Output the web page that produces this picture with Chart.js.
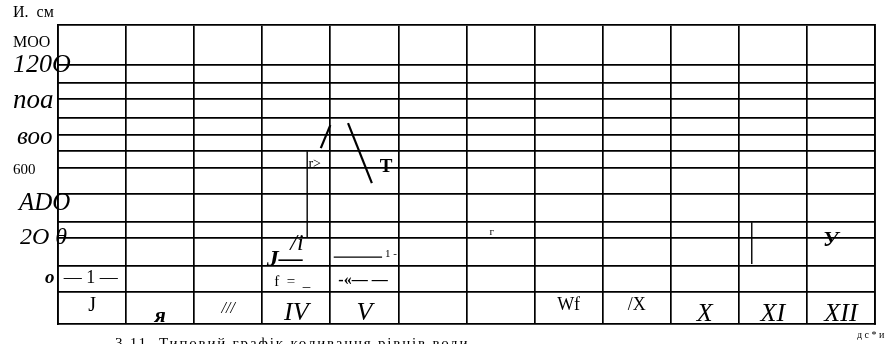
<!DOCTYPE html>
<html>
<head>
<meta charset="utf-8">
<script src="https://cdn.jsdelivr.net/npm/chart.js@4.4.1/dist/chart.umd.min.js"></script>
<style>
  html, body { margin: 0; padding: 0; background: #fff; }
  #wrap { width: 887px; height: 344px; }
</style>
</head>
<body>
<div id="wrap"><canvas id="levels"></canvas></div>
<script>
// months, as they came out of the scan
const months = ['J', 'я', '///', 'IV', 'V', '', '', 'Wf', '/X', 'X', 'XI', 'XII'];

// H, cm - left axis labels and the level each one sits at
const levelLabels = ['МОО', '120O', 'noa', 'воо', '600', 'ADO', '2O θ', 'o'];
const levelValues = [1325, 1200, 997, 794, 608, 423, 225, 0];

// horizontal grid lines (cm)
const gridLevels = [1200, 1099, 1008, 901, 806, 715, 620, 473, 315, 225, 68, -79];

// hydrograph pieces left in the scan (x = months from 1 Jan, y = cm)
const springRise = [{x: 3.86, y: 732}, {x: 4.0, y: 862}];
const springFall = [{x: 4.26, y: 873}, {x: 4.61, y: 535}];
const riseStem = [{x: 3.66, y: 715}, {x: 3.66, y: 231}];
const summerLow = [{x: 4.05, y: 118}, {x: 4.76, y: 118}];
const autumnStem = [{x: 10.19, y: 315}, {x: 10.19, y: 79}];

// stray marks / text inside the plot
const notes = [
    {text: '— 1 —', x: 0.48, y: 0, font: '18px "Liberation Serif"'},
    {text: 'r>', x: 3.77, y: 642, font: '14px "Liberation Serif"'},
    {text: 'T', x: 4.82, y: 625, font: 'bold 19px "Liberation Serif"'},
    {text: 'J—', x: 3.33, y: 101, font: 'italic bold 24px "Liberation Serif"'},
    {text: '/i', x: 3.51, y: 192, font: 'italic 24px "Liberation Serif"'},
    {text: 'f  =  _', x: 3.44, y: -23, font: '15px "Liberation Serif"'},
    {text: '-«— —', x: 4.48, y: -17, font: 'bold 16px "Liberation Serif"'},
    {text: '1 -', x: 4.89, y: 135, font: '11px "Liberation Serif"'},
    {text: 'г', x: 6.37, y: 259, font: '11px "Liberation Serif"'},
    {text: 'У', x: 11.35, y: 214, font: 'italic bold 22px "Liberation Serif"'}
];

const caption = '3.11. Типовий графік коливання рівнів води';

// fonts of the scanned labels
const serif = '"Liberation Serif", "DejaVu Serif", serif';
const levelFonts = [
    {family: serif, size: 16},
    {family: serif, size: 26, style: 'italic'},
    {family: serif, size: 27, style: 'italic'},
    {family: serif, size: 25, style: 'italic'},
    {family: serif, size: 15},
    {family: serif, size: 25, style: 'italic'},
    {family: serif, size: 24, style: 'italic'},
    {family: serif, size: 19, style: 'italic', weight: 'bold'}
];
// how far each level label starts right of the page margin, px
const levelIndent = [0, 0, 0, 4, 0, 6, 7, 32];

// labels are mirrored into the bottom row; lineHeight sets how low each one sits
const monthFonts = [
    {family: serif, size: 20, lineHeight: '36px'},
    {family: serif, size: 22, style: 'italic', weight: 'bold', lineHeight: '16px'},
    {family: serif, size: 16, style: 'italic', lineHeight: '30px'},
    {family: serif, size: 26, style: 'italic', lineHeight: '22px'},
    {family: serif, size: 26, style: 'italic', lineHeight: '22px'},
    {family: serif, size: 20, lineHeight: '30px'},
    {family: serif, size: 20, lineHeight: '30px'},
    {family: serif, size: 18, lineHeight: '38px'},
    {family: serif, size: 18, lineHeight: '38px'},
    {family: serif, size: 26, style: 'italic', lineHeight: '20px'},
    {family: serif, size: 26, style: 'italic', lineHeight: '20px'},
    {family: serif, size: 26, style: 'italic', lineHeight: '20px'}
];

const ink = '#000';
const gridWidth = 1.7;

function segment(points, width) {
    return {
        data: points,
        xAxisID: 'x',
        yAxisID: 'y',
        borderColor: ink,
        borderWidth: width,
        pointRadius: 0,
        tension: 0,
        fill: false
    };
}

const scanNotes = {
    id: 'scanNotes',
    afterDatasetsDraw(chart) {
        const {ctx, chartArea, scales: {x, y}} = chart;
        ctx.save();
        ctx.fillStyle = ink;
        ctx.textAlign = 'center';
        ctx.textBaseline = 'middle';
        notes.forEach(n => {
            ctx.font = n.font;
            ctx.fillText(n.text, x.getPixelForValue(n.x), y.getPixelForValue(n.y));
        });

        // caption under the figure, cut by the page edge as in the scan
        ctx.textAlign = 'left';
        ctx.textBaseline = 'top';
        ctx.font = '15px "Liberation Serif"';
        ctx.letterSpacing = '1.8px';
        ctx.fillText(caption, 115, chartArea.bottom + 13);

        ctx.font = '10px "Liberation Serif"';
        ctx.letterSpacing = '2.5px';
        ctx.fillText('дс*и', chartArea.right - 18, chartArea.bottom + 6);
        ctx.restore();
    }
};

const config = {
    type: 'line',
    data: {
        datasets: [
            segment(springRise, 2.2),
            segment(springFall, 2.2),
            segment(riseStem, 1.4),
            segment(summerLow, 1.2),
            segment(autumnStem, 1.4)
        ]
    },
    options: {
        responsive: true,
        maintainAspectRatio: false,
        animation: false,
        layout: { padding: { left: 13, right: 12, top: 0, bottom: 0 } },
        plugins: {
            legend: { display: false },
            tooltip: { enabled: false },
            title: {
                display: true,
                text: 'И.  см',
                align: 'start',
                color: ink,
                font: { family: serif, size: 16, weight: 'normal' },
                padding: { top: 3, bottom: 3 }
            }
        },
        scales: {
            // month grid (vertical lines + top edge)
            x: {
                type: 'linear',
                position: 'top',
                min: 0,
                max: 12,
                ticks: { display: false, stepSize: 1, autoSkip: false },
                grid: { color: ink, lineWidth: gridWidth, drawTicks: false },
                border: { display: true, color: ink, width: gridWidth },
                afterFit: s => { s.height = 0; }
            },
            // month names inside the bottom row
            xMonths: {
                type: 'category',
                position: 'bottom',
                labels: months,
                offset: true,
                grid: { display: false, drawTicks: false },
                border: { display: true, color: ink, width: gridWidth },
                ticks: {
                    color: ink,
                    mirror: true,
                    padding: 0,
                    autoSkip: false,
                    maxRotation: 0,
                    minRotation: 0,
                    font: c => monthFonts[c.index]
                },
                afterFit: s => { s.height = 20; }
            },
            // level grid (horizontal lines + right edge)
            y: {
                type: 'linear',
                position: 'right',
                min: -259,
                max: 1425,
                afterBuildTicks: s => { s.ticks = gridLevels.map(v => ({ value: v })); },
                ticks: { display: false, autoSkip: false },
                grid: { color: ink, lineWidth: gridWidth, drawTicks: false },
                border: { display: true, color: ink, width: gridWidth },
                afterFit: s => { s.width = 0; }
            },
            // level labels, left-aligned from the page margin
            yLevels: {
                type: 'linear',
                position: 'left',
                min: -259,
                max: 1425,
                afterBuildTicks: s => { s.ticks = levelValues.map(v => ({ value: v })); },
                grid: { display: false, drawTicks: false },
                border: { display: true, color: ink, width: gridWidth },
                ticks: {
                    color: ink,
                    mirror: true,
                    padding: -45,
                    autoSkip: false,
                    font: c => levelFonts[c.index],
                    callback: (value, index) => levelLabels[index]
                },
                afterFit: s => { s.width = 45; }
            }
        }
    },
    plugins: [scanNotes, {
        // nudge the few level labels that the scan shows further right
        id: 'levelIndent',
        afterUpdate(chart) {
            const scale = chart.scales.yLevels;
            const items = scale._labelItems || (scale._labelItems = scale._computeLabelItems(chart.chartArea));
            items.forEach((item, i) => {
                item.options.translation[0] += levelIndent[i];
            });
        }
    }]
};

new Chart(document.getElementById('levels'), config);
</script>
</body>
</html>
